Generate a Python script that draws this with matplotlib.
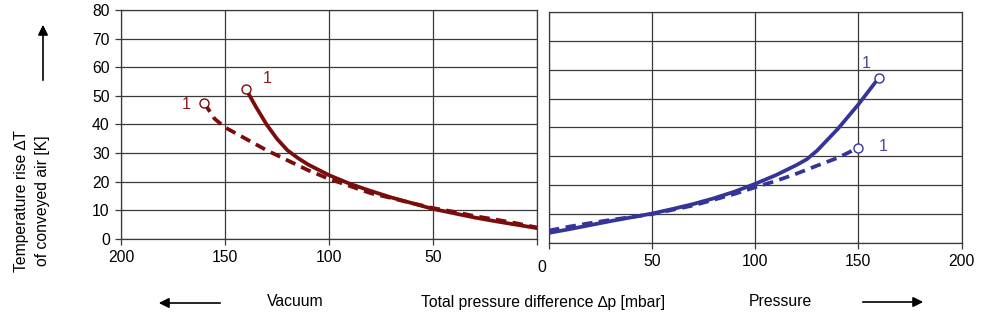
import numpy as np
import matplotlib
matplotlib.use("Agg")
import matplotlib.pyplot as plt
import matplotlib as mpl

mpl.rcParams['font.family'] = ['Liberation Sans', 'DejaVu Sans']
mpl.rcParams['font.size'] = 11.3

# vacuum side (left panel), x = pressure difference in mbar
vac_solid_x = [140, 135, 130, 125, 120, 115, 110, 100, 90, 80, 70, 60, 50, 40, 30, 20, 10, 0]
vac_solid_y = [52.5, 46, 40, 35, 31, 28.3, 26, 22.3, 19.3, 16.8, 14.5, 12.5, 10.5, 9, 7.5, 6.2, 5, 3.8]
vac_dash_x = [160, 155, 150, 140, 130, 120, 110, 100, 90, 80, 70, 60, 50, 40, 30, 20, 10, 0]
vac_dash_y = [47.5, 42, 39, 35, 31, 27.5, 24, 21, 18.5, 16, 14.3, 12.5, 10.8, 9.5, 8, 6.8, 5.5, 4]

# pressure side (right panel)
pr_solid_x = [0, 10, 20, 30, 40, 50, 60, 70, 80, 90, 100, 110, 120, 125, 130, 140, 150, 160]
pr_solid_y = [3.5, 4.8, 6.2, 7.6, 8.9, 10.2, 11.8, 13.5, 15.5, 17.8, 20.5, 23.5, 27, 29, 32, 39.5, 48, 57.3]
pr_dash_x = [0, 10, 20, 30, 40, 50, 60, 70, 80, 90, 100, 110, 120, 130, 140, 150]
pr_dash_y = [4.3, 5.7, 6.9, 8, 9, 10, 11.5, 13, 15, 17, 19.3, 21.5, 24, 26.8, 29.5, 33]

x_ticks_vac = [200, 150, 100, 50, 0]
x_ticks_pr = [0, 50, 100, 150, 200]
y_ticks = [0, 10, 20, 30, 40, 50, 60, 70, 80]

red = '#7a0c0c'
blue = '#353599'
grid_c = '#3a3a3a'

fig = plt.figure(figsize=(10.04, 3.26), dpi=100)
ax1 = fig.add_axes([0.1205, 0.2669, 0.4144, 0.7024])
ax2 = fig.add_axes([0.5468, 0.2546, 0.4109, 0.7086])

for ax in (ax1, ax2):
    ax.set_ylim(0, 80)
    ax.set_yticks(y_ticks)
    ax.grid(True, color=grid_c, linewidth=0.9)
    ax.set_axisbelow(True)
    for s in ax.spines.values():
        s.set_color(grid_c)
        s.set_linewidth(0.9)
    ax.tick_params(length=4, width=0.9, color=grid_c, labelsize=11.3, pad=4)

ax1.set_xlim(200, 0)
ax1.set_xticks(x_ticks_vac)
ax1.set_xticklabels(['200', '150', '100', '50', ''])
ax2.set_xlim(0, 200)
ax2.set_xticks(x_ticks_pr)
ax2.set_xticklabels(['', '50', '100', '150', '200'])
ax2.tick_params(axis='y', left=False, labelleft=False)

lw = 2.7
dash = (0, (2.8, 1.7))
ax1.plot(vac_dash_x, vac_dash_y, color=red, lw=lw, linestyle=dash, zorder=3)
ax1.plot(vac_solid_x, vac_solid_y, color=red, lw=lw, zorder=3)
ax1.plot([vac_solid_x[0]], [vac_solid_y[0]], 'o', ms=6.5, mfc='white', mec=red, mew=1, zorder=4)
ax1.plot([vac_dash_x[0]], [vac_dash_y[0]], 'o', ms=6.5, mfc='white', mec=red, mew=1, zorder=4)
ax1.text(132, 54.5, '1', color='#8b1a1a', fontsize=11.5)
ax1.text(171, 45.5, '1', color='#8b1a1a', fontsize=11.5)

ax2.plot(pr_dash_x, pr_dash_y, color=blue, lw=lw, linestyle=dash, zorder=3)
ax2.plot(pr_solid_x, pr_solid_y, color=blue, lw=lw, zorder=3)
ax2.plot([pr_solid_x[-1]], [pr_solid_y[-1]], 'o', ms=6.5, mfc='white', mec=blue, mew=1, zorder=4)
ax2.plot([pr_dash_x[-1]], [pr_dash_y[-1]], 'o', ms=6.5, mfc='white', mec=blue, mew=1, zorder=4)
ax2.text(151.5, 60.5, '1', color='#4848a8', fontsize=11.5)
ax2.text(160, 32, '1', color='#4848a8', fontsize=11.5)

# shared zero and labels
fig.text(541.5 / 1004, 1 - 268 / 326, '0', ha='center', va='center', fontsize=11.3)
fig.text(22 / 1004, 1 - 201 / 326, 'Temperature rise \u2206T', rotation=90,
         ha='center', va='center', fontsize=11.3)
fig.text(43 / 1004, 1 - 201 / 326, 'of conveyed air [K]', rotation=90,
         ha='center', va='center', fontsize=11.3)
fig.text(295 / 1004, 1 - 302 / 326, 'Vacuum', ha='center', va='center', fontsize=11.3)
fig.text(543 / 1004, 1 - 302 / 326, 'Total pressure difference \u2206p [mbar]',
         ha='center', va='center', fontsize=11.3)
fig.text(780 / 1004, 1 - 302 / 326, 'Pressure', ha='center', va='center', fontsize=11.3)

arrow = dict(arrowstyle='-|>', color='black', lw=1.2, mutation_scale=15)
fig.patches.append(mpl.patches.FancyArrowPatch((43 / 1004, 1 - 83 / 326), (43 / 1004, 1 - 22 / 326),
                                               transform=fig.transFigure, **arrow))
fig.patches.append(mpl.patches.FancyArrowPatch((223 / 1004, 1 - 303 / 326), (156 / 1004, 1 - 303 / 326),
                                               transform=fig.transFigure, **arrow))
fig.patches.append(mpl.patches.FancyArrowPatch((860 / 1004, 1 - 302 / 326), (926 / 1004, 1 - 302 / 326),
                                               transform=fig.transFigure, **arrow))

plt.savefig('out.png', dpi=100)
